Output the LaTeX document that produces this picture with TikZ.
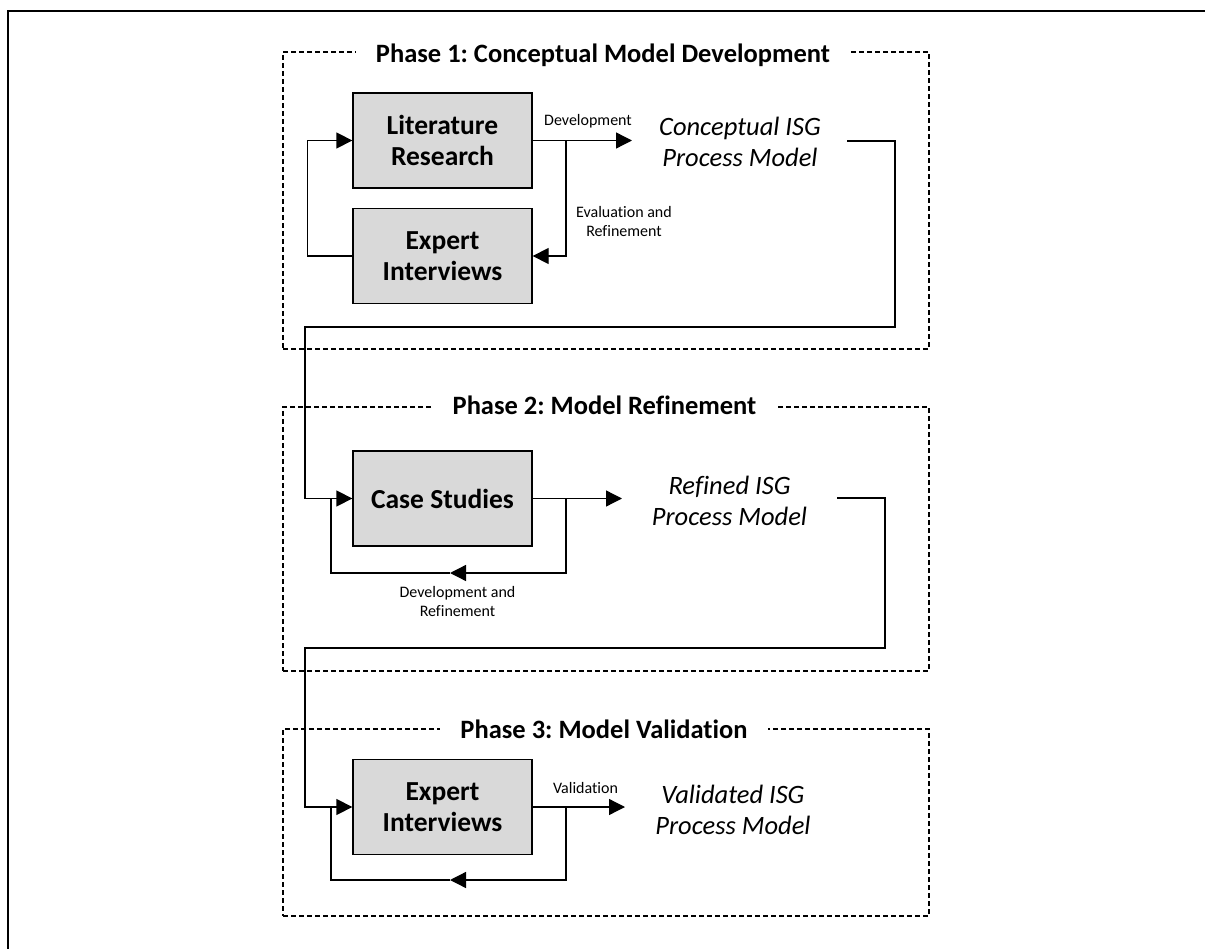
\documentclass[tikz,border=0pt]{standalone}
\usepackage{fontspec}
\setmainfont[Ligatures=NoCommon]{Carlito}
\usetikzlibrary{arrows.meta}
\definecolor{boxgray}{HTML}{D9D9D9}
\tikzset{
  procbox/.style={draw=black, line width=1.3pt, fill=boxgray, minimum width=179pt, minimum height=95pt, inner sep=0pt, align=center, font=\fontsize{27.5}{31}\selectfont\bfseries},
  phasebox/.style={draw=black, line width=1.3pt, dash pattern=on 5pt off 3pt},
  phasetitle/.style={fill=white, inner xsep=20pt, inner ysep=2pt, anchor=base, font=\fontsize{26.5}{31}\selectfont\bfseries},
  result/.style={align=center, inner sep=0pt, font=\fontsize{26.5}{31}\selectfont\itshape},
  smalllabel/.style={align=center, inner sep=0pt, font=\fontsize{16}{19}\selectfont},
  conn/.style={draw=black, line width=1.3pt},
  arr/.style={conn, -{Triangle[length=16pt, width=16pt]}},
}
\frenchspacing
\begin{document}
\begin{tikzpicture}[x=1pt, y=-1pt]
\useasboundingbox (0,0) rectangle (1205,949);
% outer frame (only top and left visible)
\coordinate (fbl) at (8,949);
\coordinate (ftl) at (8,11);
\coordinate (ftr) at (1205,11);
\draw[line width=2.2pt] (fbl) -- (ftl) -- (ftr);

% phase frames
\node[phasebox, minimum width=646pt, minimum height=297pt, inner sep=0pt] (ph1) at (606,200.5) {};
\node[phasebox, minimum width=646pt, minimum height=264pt, inner sep=0pt] (ph2) at (606,539) {};
\node[phasebox, minimum width=646pt, minimum height=187pt, inner sep=0pt] (ph3) at (606,822.5) {};
\node[phasetitle] (t1) at (603,63) {Phase 1: Conceptual Model Development};
\node[phasetitle] (t2) at (604.5,415) {Phase 2: Model Refinement};
\node[phasetitle] (t3) at (604,738) {Phase 3: Model Validation};

% process boxes
\node[procbox] (lit) at (442.5,140.5) {Literature\\Research};
\node[procbox] (exp1) at (442.5,256) {Expert\\Interviews};
\node[procbox] (case) at (442.5,498.5) {Case Studies};
\node[procbox] (exp3) at (442.5,807) {Expert\\Interviews};

% results
\node[result] (concept) at (740,142) {Conceptual ISG\\Process Model};
\node[result] (refined) at (729.5,501) {Refined ISG\\Process Model};
\node[result] (valid) at (733,810) {Validated ISG\\Process Model};

% labels
\node[smalllabel] (ldev) at (588,121) {Development};
\node[smalllabel] (leval) at (624,222) {Evaluation and\\Refinement};
\node[smalllabel] (ldevref) at (457.5,602) {Development and\\Refinement};
\node[smalllabel] (lval) at (585.5,788) {Validation};

% coordinates for connector ends
\coordinate (dev) at (632,140.5);
\coordinate (b1) at (566,140.5);
\coordinate (c1s) at (847,141);
\coordinate (c1r) at (895,141);
\coordinate (c1b) at (895,327);
\coordinate (c1l) at (305,327);
\coordinate (refout) at (622,498.5);
\coordinate (b2) at (566,498.5);
\coordinate (a2) at (450,573);
\coordinate (l2) at (331,573);
\coordinate (j2) at (331,498.5);
\coordinate (c2s) at (837,498);
\coordinate (c2r) at (885,498);
\coordinate (c2b) at (885,648);
\coordinate (c2l) at (305,648);
\coordinate (valout) at (625,807);
\coordinate (b3) at (566,807);
\coordinate (a3) at (450,880);
\coordinate (l3) at (331,880);
\coordinate (j3) at (331,807);

% phase 1 connectors
\draw[arr] (exp1.west) -- ++(-45,0) |- (lit.west);
\draw[arr] (lit.east) -- (dev);
\draw[arr] (b1) |- (exp1.east);
\draw[arr] (c1s) -- (c1r) -- (c1b) -- (c1l) |- (case.west);

% phase 2 connectors
\draw[arr] (case.east) -- (refout);
\draw[arr] (b2) |- (a2);
\draw[conn] (a2) -- (l2) -- (j2);
\draw[arr] (c2s) -- (c2r) -- (c2b) -- (c2l) |- (exp3.west);

% phase 3 connectors
\draw[arr] (exp3.east) -- (valout);
\draw[arr] (b3) |- (a3);
\draw[conn] (a3) -- (l3) -- (j3);
\end{tikzpicture}
\end{document}
